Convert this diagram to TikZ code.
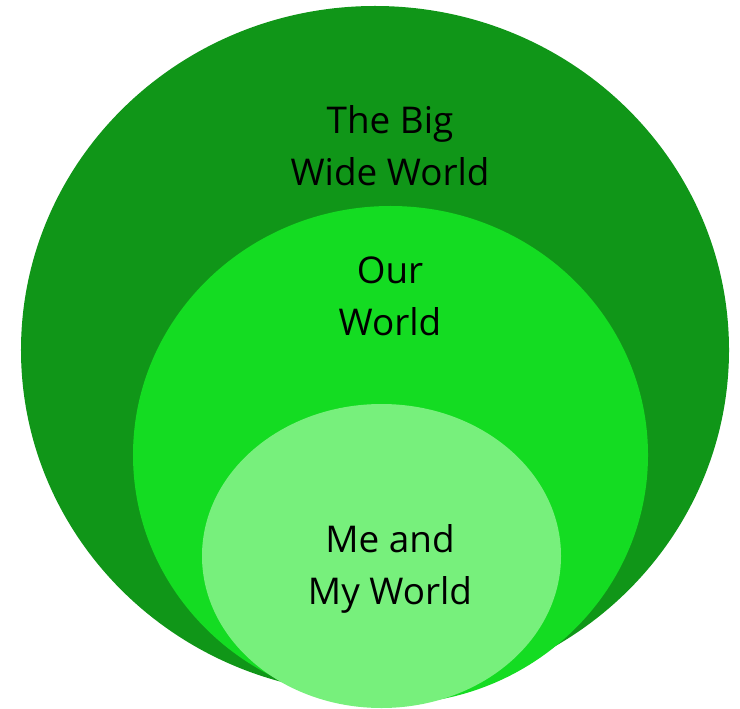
\documentclass[tikz,border=0pt]{standalone}
\usepackage{fontspec}
\setmainfont{Open Sans}
\usetikzlibrary{shapes.geometric}

\definecolor{bigworld}{RGB}{16,150,24}
\definecolor{ourworld}{RGB}{20,220,34}
\definecolor{myworld}{RGB}{119,240,124}

\tikzset{
  world/.style={ellipse,inner sep=0pt,draw=none},
  worldlabel/.style={align=center,text=black,font=\fontsize{37}{52}\selectfont}
}

\begin{document}
\begin{tikzpicture}[x=1bp,y=-1bp]
  \useasboundingbox (0,0) rectangle (740,709);

  % the three worlds, largest first
  \node[world,fill=bigworld,minimum width=708bp,minimum height=688bp] (big) at (375,350) {};
  \node[world,fill=ourworld,minimum width=515bp,minimum height=498bp] (our) at (390.5,455) {};
  \node[world,fill=myworld,minimum width=359bp,minimum height=304bp] (me) at (381.5,556) {};

  \node[worldlabel] (biglabel) at (390,146) {The Big\\Wide World};
  \node[worldlabel] (ourlabel) at (390,296) {Our\\World};
  \node[worldlabel] (melabel) at (390,569) {Me and\\My World};
\end{tikzpicture}
\end{document}
